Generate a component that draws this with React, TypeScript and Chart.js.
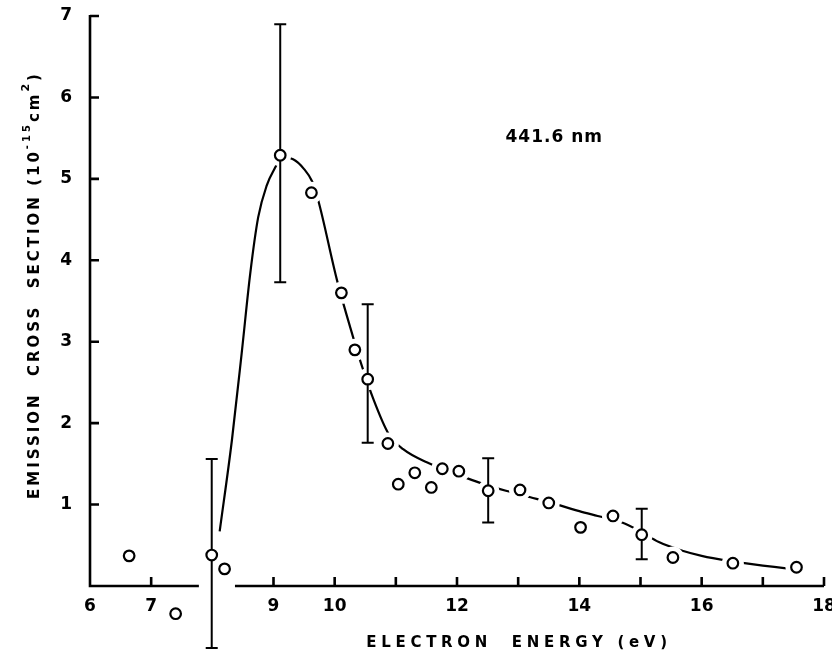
import React, { useEffect, useRef } from 'react';
import { Chart, registerables } from 'chart.js';

Chart.register(...registerables);

// Measured points (electron energy in eV, cross section in 1e-15 cm^2)
const pointX = [6.64, 7.40, 7.99, 8.20, 9.11, 9.62, 10.11, 10.33, 10.54, 10.87, 11.04, 11.31, 11.58, 11.76, 12.03, 12.51, 13.03, 13.50, 14.02, 14.55, 15.02, 15.53, 16.51, 17.55];
const pointY = [0.37, -0.34, 0.38, 0.21, 5.29, 4.83, 3.60, 2.90, 2.54, 1.75, 1.25, 1.39, 1.21, 1.44, 1.41, 1.17, 1.18, 1.02, 0.72, 0.86, 0.63, 0.35, 0.28, 0.23];

// Hand-drawn fitted curve
const curveX = [8.12, 8.32, 8.48, 8.62, 8.75, 8.89, 9.0, 9.15, 9.32, 9.5, 9.63, 9.73, 10.04, 10.3, 10.45, 10.63, 10.88, 11.12, 11.56, 12.0, 12.4, 12.8, 13.2, 13.5, 14.0, 14.3, 14.7, 15.0, 15.3, 15.7, 16.0, 16.42, 16.7, 17.0, 17.35, 17.5];
const curveY = [0.67, 1.79, 2.86, 3.84, 4.53, 4.92, 5.10, 5.26, 5.24, 5.12, 4.97, 4.74, 3.75, 3.06, 2.69, 2.30, 1.87, 1.68, 1.50, 1.37, 1.26, 1.17, 1.09, 1.03, 0.92, 0.86, 0.78, 0.67, 0.54, 0.43, 0.37, 0.31, 0.28, 0.25, 0.22, 0.21];

// Error bars
const errX = [7.99, 9.11, 10.54, 12.51, 15.02];
const errLow = [-0.76, 3.73, 1.76, 0.78, 0.33];
const errHigh = [1.56, 6.90, 3.46, 1.57, 0.95];

// Axes
const xMin = 6;
const xMax = 18;
const yMin = 0;
const yMax = 7;
const xTickLabels = [6, 7, 9, 10, 12, 14, 16, 18];
const xTickMarks = [7, 9, 10, 11, 12, 13, 14, 15, 16, 17, 18];
const yTickLabels = [1, 2, 3, 4, 5, 6, 7];
const xAxisBreak = [7.78, 8.37];

const xTitle = 'ELECTRON  ENERGY (eV)';
const yTitleParts = ['EMISSION  CROSS  SECTION (10', '-15', 'cm', '2', ')'];
const annotationText = '441.6 nm';
const annotationX = 13.59;
const annotationY = 5.51;

const FONT = '"DejaVu Sans", "Liberation Sans", sans-serif';

function drawOutside(chart: any, index: number) {
  const meta = chart.getDatasetMeta(index);
  const area = chart.chartArea;
  meta.data.forEach((el: any) => {
    const inside = el.x >= area.left && el.x <= area.right && el.y >= area.top && el.y <= area.bottom;
    if (!inside) el.draw(chart.ctx);
  });
}

const decorPlugin = {
  id: 'decor',
  beforeDatasetsDraw(chart: any) {
    const { ctx, scales } = chart;
    const x = scales.x;
    const y = scales.y;
    ctx.save();
    ctx.strokeStyle = '#000';
    ctx.lineWidth = 2.6;
    ctx.lineCap = 'butt';
    const y0 = y.getPixelForValue(0);
    const x0 = x.getPixelForValue(xMin);
    ctx.beginPath();
    ctx.moveTo(x0 - 1.3, y0);
    ctx.lineTo(x.getPixelForValue(xAxisBreak[0]), y0);
    ctx.moveTo(x.getPixelForValue(xAxisBreak[1]), y0);
    ctx.lineTo(x.getPixelForValue(xMax), y0);
    xTickMarks.forEach((v) => {
      const px = x.getPixelForValue(v);
      ctx.moveTo(px, y0);
      ctx.lineTo(px, y0 - 9);
    });
    ctx.moveTo(x0, y0);
    ctx.lineTo(x0, y.getPixelForValue(yMax) - 1);
    yTickLabels.forEach((v) => {
      const py = y.getPixelForValue(v);
      ctx.moveTo(x0, py);
      ctx.lineTo(x0 + 9, py);
    });
    ctx.stroke();

    ctx.fillStyle = '#000';
    ctx.textBaseline = 'middle';

    // annotation
    ctx.font = `bold 17px ${FONT}`;
    (ctx as any).letterSpacing = '1px';
    ctx.textAlign = 'left';
    const aw = ctx.measureText(annotationText).width;
    ctx.fillText(annotationText, x.getPixelForValue(annotationX) - aw / 2, y.getPixelForValue(annotationY));

    // x title
    ctx.font = `bold 15px ${FONT}`;
    (ctx as any).letterSpacing = '4.7px';
    const xw = ctx.measureText(xTitle).width;
    ctx.fillText(xTitle, 519 - xw / 2, 643);

    // y title
    ctx.save();
    ctx.translate(35, 285);
    ctx.rotate(-Math.PI / 2);
    const specs = [
      { size: 15, dy: 0 },
      { size: 10, dy: -8 },
      { size: 15, dy: 0 },
      { size: 11, dy: -9 },
      { size: 15, dy: 0 },
    ];
    (ctx as any).letterSpacing = '3px';
    let total = 0;
    const widths: number[] = [];
    yTitleParts.forEach((t, i) => {
      ctx.font = `bold ${specs[i].size}px ${FONT}`;
      const w = ctx.measureText(t).width;
      widths.push(w);
      total += w;
    });
    let cx = -total / 2;
    yTitleParts.forEach((t, i) => {
      ctx.font = `bold ${specs[i].size}px ${FONT}`;
      ctx.fillText(t, cx, specs[i].dy);
      cx += widths[i];
    });
    ctx.restore();
    ctx.restore();
  },
  afterDatasetDraw(chart: any, args: any) {
    if (args.index === 0) {
      drawOutside(chart, 0);
      return;
    }
    if (args.index !== 1) return;
    drawOutside(chart, 1);
    const { ctx, scales } = chart;
    const x = scales.x;
    const y = scales.y;
    ctx.save();
    ctx.strokeStyle = '#000';
    ctx.lineWidth = 2;
    ctx.beginPath();
    errX.forEach((v, i) => {
      const px = x.getPixelForValue(v);
      const pl = y.getPixelForValue(errLow[i]);
      const ph = y.getPixelForValue(errHigh[i]);
      ctx.moveTo(px, pl);
      ctx.lineTo(px, ph);
      ctx.moveTo(px - 6, pl);
      ctx.lineTo(px + 6, pl);
      ctx.moveTo(px - 6, ph);
      ctx.lineTo(px + 6, ph);
    });
    ctx.stroke();
    ctx.restore();
  },
};

export default function App() {
  const canvasRef = useRef<HTMLCanvasElement | null>(null);

  useEffect(() => {
    if (!canvasRef.current) return;
    const points = pointX.map((v, i) => ({ x: v, y: pointY[i] }));
    const curve = curveX.map((v, i) => ({ x: v, y: curveY[i] }));
    const chart = new Chart(canvasRef.current, {
      type: 'scatter',
      data: {
        datasets: [
          {
            data: points,
            showLine: false,
            pointRadius: 5.3,
            pointBorderWidth: 2.2,
            pointBorderColor: '#000',
            pointBackgroundColor: '#fff',
            clip: false as any,
          },
          {
            data: points,
            showLine: false,
            pointRadius: 11,
            pointBorderWidth: 0,
            pointBorderColor: '#fff',
            pointBackgroundColor: '#fff',
            clip: false as any,
          },
          {
            data: curve,
            showLine: true,
            pointRadius: 0,
            borderColor: '#000',
            borderWidth: 2.2,
            cubicInterpolationMode: 'monotone',
            fill: false,
          },
        ],
      },
      options: {
        animation: false,
        responsive: true,
        maintainAspectRatio: false,
        events: [],
        layout: { padding: { top: 16, right: 8, left: 0, bottom: 0 }, autoPadding: false } as any,
        plugins: { legend: { display: false }, tooltip: { enabled: false } },
        scales: {
          x: {
            type: 'linear',
            min: xMin,
            max: xMax,
            grid: { display: false, drawTicks: false },
            border: { display: false },
            ticks: {
              stepSize: 1,
              autoSkip: false,
              maxRotation: 0,
              padding: 10,
              color: '#000',
              font: { family: FONT, size: 17, weight: 'bold' },
              callback: (v: any) => (xTickLabels.includes(Number(v)) ? String(v) : ''),
            },
            afterFit: (s: any) => {
              s.height = 68;
              s.paddingLeft = 0;
              s.paddingRight = 0;
            },
          },
          y: {
            type: 'linear',
            min: yMin,
            max: yMax,
            grid: { display: false, drawTicks: false },
            border: { display: false },
            ticks: {
              stepSize: 1,
              padding: 18,
              color: '#000',
              font: { family: FONT, size: 17, weight: 'bold' },
              callback: (v: any) => (yTickLabels.includes(Number(v)) ? String(v) : ''),
            },
            afterFit: (s: any) => {
              s.width = 90;
              s.paddingTop = 0;
              s.paddingBottom = 0;
            },
          },
        },
      },
      plugins: [decorPlugin],
    });
    return () => chart.destroy();
  }, []);

  return (
    <div style={{ position: 'absolute', left: 0, top: 0, width: 832, height: 654, background: '#fff' }}>
      <canvas ref={canvasRef} />
    </div>
  );
}
